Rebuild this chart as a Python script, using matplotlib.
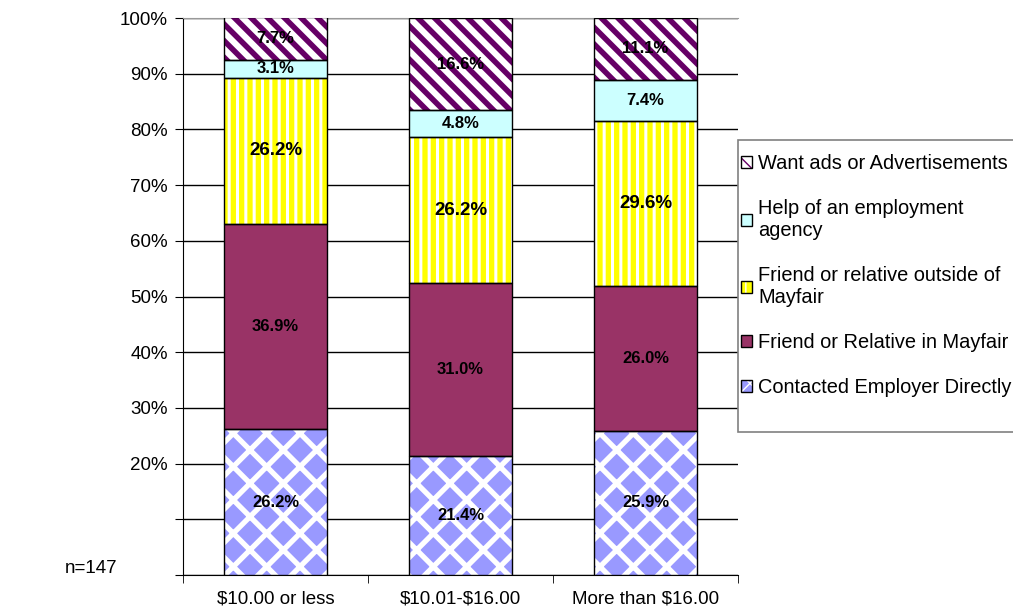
import matplotlib.pyplot as plt
from matplotlib.patches import Rectangle
import numpy as np

plt.rcParams['font.family'] = ['Liberation Sans', 'DejaVu Sans']

cats = ['$10.00 or less', '$10.01-$16.00', 'More than $16.00']
series = ['Contacted Employer Directly', 'Friend or Relative in Mayfair',
          'Friend or relative outside of\nMayfair', 'Help of an employment\nagency',
          'Want ads or Advertisements']
contacted = [26.2, 21.4, 25.9]
in_mayfair = [36.9, 31.0, 26.0]
outside = [26.2, 26.2, 29.6]
agency = [3.1, 4.8, 7.4]
want_ads = [7.7, 16.6, 11.1]

# face, hatch colour, hatch, hatch lw, label fontsize
styles = [
    ('#9999FF', 'white', 'x', 3.8, 12),
    ('#993366', '#993366', '', 1, 12),
    ('#FFFF00', 'white', '||', 2.2, 13.5),
    ('#CCFFFF', '#CCFFFF', '', 1, 12),
    ('white', '#660066', '\\\\', 4.0, 12),
]

fig = plt.figure(figsize=(10.13, 6.13), dpi=100)
ax = fig.add_axes([0.1807, 0.062, 0.5479, 0.9086])

x = np.arange(len(cats))
w = 0.56
bottom = np.zeros(3)
handles = []
for vals, (fc, hc, hatch, hlw, fs) in zip([contacted, in_mayfair, outside, agency, want_ads], styles):
    vals = np.array(vals)
    with plt.rc_context({'hatch.linewidth': hlw}):
        b = ax.bar(x, vals, w, bottom=bottom, color=fc, edgecolor=hc, hatch=hatch,
                   linewidth=0, zorder=3)
    ol = ax.bar(x, vals, w, bottom=bottom, fill=False, edgecolor='black', linewidth=1, zorder=4)
    for xi, v, b0 in zip(x, vals, bottom):
        ax.text(xi, b0 + v / 2, f'{v:.1f}%', ha='center', va='center',
                fontsize=fs, fontweight='bold', zorder=5)
    handles.append((b, ol))
    bottom += vals

ax.set_xlim(-0.5, 2.5)
ax.set_ylim(0, 100)
ax.set_yticks(np.arange(0, 101, 10))
ax.set_yticklabels(['', ''] + [f'{v}%' for v in range(20, 101, 10)], fontsize=13.5)
ax.yaxis.grid(True, color='black', linewidth=1, zorder=0)
ax.set_axisbelow(True)
ax.set_xticks(x)
ax.set_xticklabels([c.replace('$', r'\$') for c in cats], fontsize=13.5)
ax.tick_params(axis='x', length=0, pad=11)
ax.set_xticks([-0.5, 0.5, 1.5, 2.5], minor=True)
ax.tick_params(axis='x', which='minor', length=6, color='black')
ax.tick_params(axis='y', length=6, color='black', pad=5)
ax.spines['right'].set_visible(False)
ax.spines['top'].set_color('#999999')
ax.spines['left'].set_color('black')
ax.spines['bottom'].set_color('black')

fig.text(0.064, 0.066, 'n=147', fontsize=13.5)

# legend frame (runs off the right edge like the original)
fig.add_artist(Rectangle((738 / 1013, 181 / 613), 0.3, 292 / 613, transform=fig.transFigure,
                         facecolor='white', edgecolor='#808080', linewidth=1.2, zorder=1))
leg = fig.legend(handles[::-1], series[::-1], loc='upper left',
                 bbox_to_anchor=(0.7275, 0.7555), fontsize=14.4, frameon=False,
                 handlelength=0.55, handleheight=0.55, handletextpad=0.3,
                 labelspacing=1.3, borderpad=0.2, borderaxespad=0)
leg.set_zorder(2)

fig.savefig('out.png', dpi=100)
